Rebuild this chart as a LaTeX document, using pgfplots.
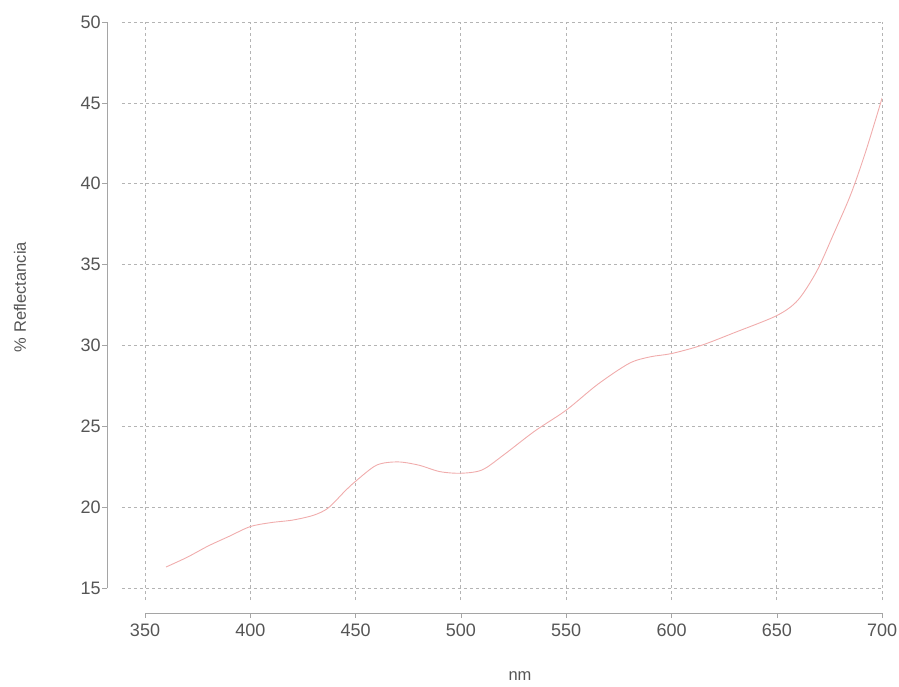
\documentclass[border=0pt]{standalone}
\usepackage{pgfplots}
\pgfplotsset{compat=1.18}
\usepackage{fontspec}
\setmainfont{Liberation Sans}
\definecolor{curve}{RGB}{240,172,172}
\definecolor{gridc}{RGB}{180,180,180}
\definecolor{axc}{RGB}{165,165,165}
\definecolor{txt}{RGB}{85,85,85}
\pgfplotstableread{
x y
360 16.3
370 16.9
380 17.6
390 18.2
400 18.8
410 19.05
420 19.2
430 19.5
437 19.95
445 21.0
450 21.6
460 22.6
470 22.8
480 22.6
490 22.2
500 22.1
510 22.3
520 23.2
535 24.7
550 26.0
565 27.6
580 28.9
590 29.3
600 29.5
614 30.0
630 30.8
650 31.85
660 32.8
669 34.6
677 36.9
685 39.3
692 41.9
700 45.3
}\spectrum
\begin{document}
\begin{tikzpicture}
\path[use as bounding box] (0,0) rectangle (899pt,686pt);
% grid axis
\begin{axis}[
  at={(121.8pt,86pt)}, anchor=south west,
  x=2.106pt, y=16.17pt,
  xmin=339, xmax=700, ymin=14.26, ymax=50,
  xtick={350,400,...,700}, ytick={15,20,...,50},
  xticklabels={}, yticklabels={},
  major tick length=0pt,
  axis line style={draw=none},
  grid=major,
  major grid style={gridc, line width=0.8pt, dash pattern=on 3pt off 3pt},
]
\addplot[curve, line width=0.9pt, smooth, tension=0.5] table[x=x,y=y] {\spectrum};
\end{axis}
% frame axis
\begin{axis}[
  at={(107.1pt,72.9pt)}, anchor=south west,
  x=2.106pt, y=16.17pt,
  xmin=332, xmax=700, ymin=13.45, ymax=50,
  xtick={350,400,...,700}, ytick={15,20,...,50},
  axis line style={draw=none},
  xtick pos=bottom, ytick pos=left,
  tick align=outside,
  major tick length=5pt,
  every tick/.style={axc, line width=0.6pt},
  tick label style={txt, font=\fontsize{18}{20}\selectfont},
  /pgf/number format/assume math mode=true,
  xticklabel style={yshift=-2pt},
  yticklabel style={xshift=2pt},
  clip=false,
]
\draw[axc, line width=0.8pt] (axis cs:332,15) -- (axis cs:332,50);
\draw[axc, line width=0.8pt] (axis cs:350,13.45) -- (axis cs:700,13.45);
\end{axis}
\node[txt, rotate=90, font=\fontsize{16.5}{18}\selectfont] at (20pt,389pt) {\% Reflectancia};
\node[txt, font=\fontsize{16.5}{18}\selectfont] at (520pt,10pt) {nm};
\end{tikzpicture}
\end{document}
